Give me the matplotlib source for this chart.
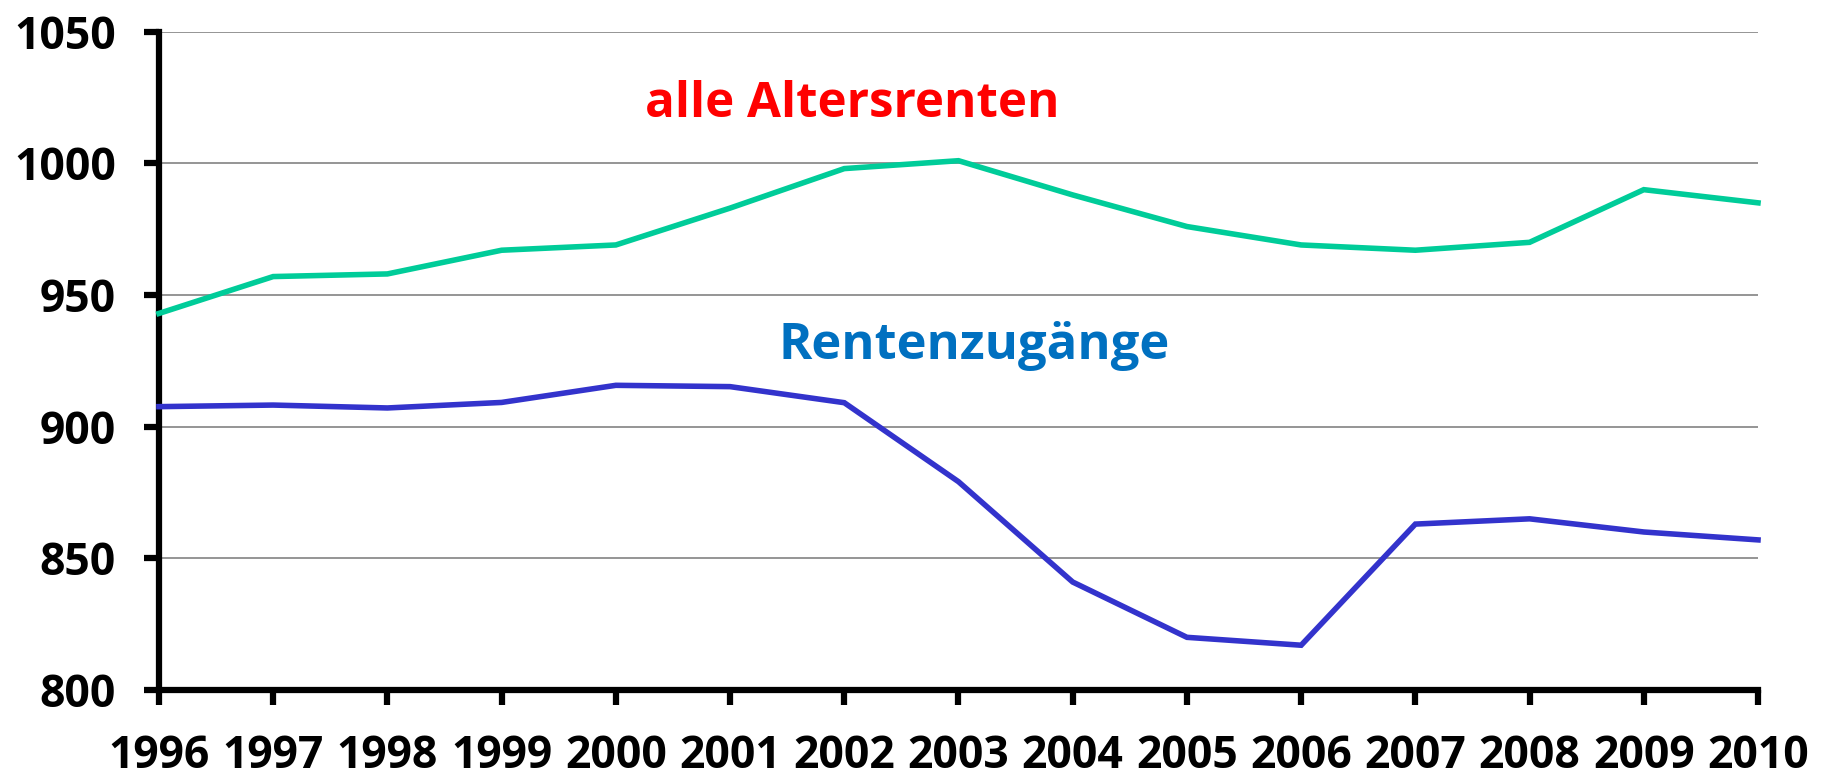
import matplotlib
matplotlib.use("Agg")
import matplotlib.pyplot as plt

years = [1996, 1997, 1998, 1999, 2000, 2001, 2002, 2003, 2004, 2005, 2006, 2007, 2008, 2009, 2010]
alle_altersrenten = [943, 957, 958, 967, 969, 983, 998, 1001, 988, 976, 969, 967, 970, 990, 985]
rentenzugaenge = [907.6, 908.2, 907.1, 909.2, 915.7, 915.2, 909.1, 879.1, 841, 820, 817, 863, 865, 860, 857]
y_ticks = [800, 850, 900, 950, 1000, 1050]

plt.rcParams['font.family'] = ['Open Sans', 'DejaVu Sans']

fig = plt.figure(figsize=(18.25, 7.8), dpi=100)
ax = fig.add_axes([0.0871, 0.1154, 0.9633 - 0.0871, 0.9594 - 0.1154])

ax.plot(years, alle_altersrenten, color='#00CC99', lw=4, solid_joinstyle='miter', zorder=3, clip_on=False)
ax.plot(years, rentenzugaenge, color='#3333CC', lw=4, solid_joinstyle='miter', zorder=3, clip_on=False)

ax.set_xlim(years[0], years[-1])
ax.set_ylim(800, 1050)
ax.set_xticks(years)
ax.set_xticklabels([str(y) for y in years])
ax.set_yticks(y_ticks)
ax.set_yticklabels([str(v) for v in y_ticks])

ax.grid(axis='y', color='#8c8c8c', lw=1.3, zorder=1)
ax.set_axisbelow(True)

for s in ['top', 'right']:
    ax.spines[s].set_visible(False)
for s in ['left', 'bottom']:
    ax.spines[s].set_linewidth(4.5)
    ax.spines[s].set_color('black')
    ax.spines[s].set_capstyle('projecting')

ax.tick_params(axis='both', direction='out', length=11, width=4.5, color='black')
ax.tick_params(axis='y', pad=20, labelsize=32)
ax.tick_params(axis='x', pad=21, labelsize=32)
for lab in ax.get_xticklabels() + ax.get_yticklabels():
    lab.set_fontweight('bold')

ax.text(2002.07, 1022.2, 'alle Altersrenten', color='#FF0000', fontsize=35.5, fontweight='bold',
        ha='center', va='center')
ax.text(2003.14, 930.8, 'Rentenzugänge', color='#0070C0', fontsize=36.5, fontweight='bold',
        ha='center', va='center')

fig.savefig('out.png', dpi=100)
